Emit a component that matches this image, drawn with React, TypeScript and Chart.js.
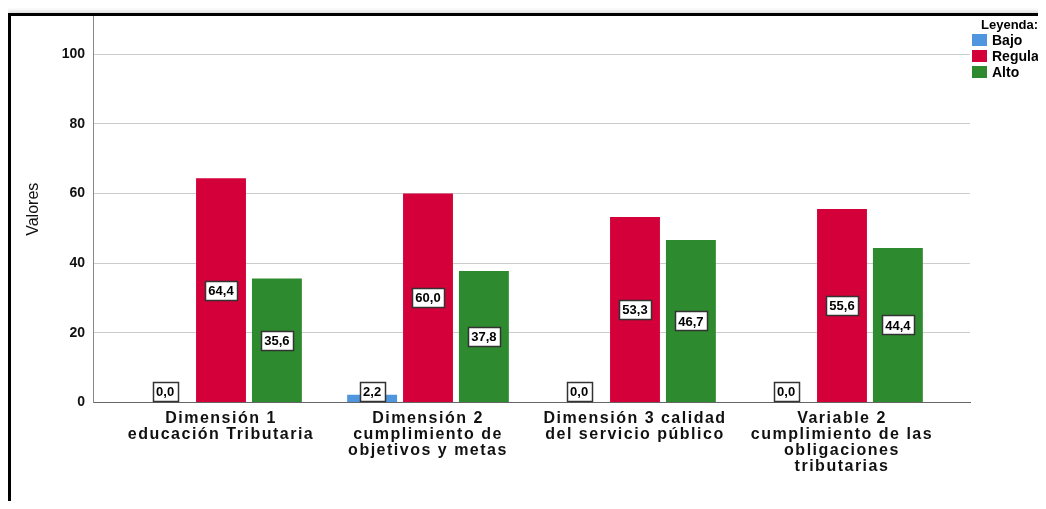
import React, { useEffect, useRef } from "react";
import { Chart, registerables } from "chart.js";

Chart.register(...registerables);

const categories: string[][] = [
  ["Dimensión 1", "educación Tributaria"],
  ["Dimensión 2", "cumplimiento de", "objetivos y metas"],
  ["Dimensión 3 calidad", "del servicio público"],
  ["Variable 2", "cumplimiento de las", "obligaciones", "tributarias"],
];
const seriesNames = ["Bajo", "Regula", "Alto"];
const bajo = [0.0, 2.2, 0.0, 0.0];
const regular = [64.4, 60.0, 53.3, 55.6];
const alto = [35.6, 37.8, 46.7, 44.4];
const yTicks = [0, 20, 40, 60, 80, 100];
const colors = ["#5096df", "#d4003a", "#2e8a2e"];

const FONT = '"Liberation Sans", Arial, sans-serif';

const labelPlugin = {
  id: "valueLabels",
  afterDatasetsDraw(chart: any) {
    const ctx = chart.ctx;
    ctx.save();
    ctx.font = `bold 13px ${FONT}`;
    ctx.textAlign = "center";
    ctx.textBaseline = "middle";
    chart.data.datasets.forEach((ds: any, di: number) => {
      const meta = chart.getDatasetMeta(di);
      meta.data.forEach((bar: any, i: number) => {
        const v = ds.data[i].y;
        const txt = v.toFixed(1).replace(".", ",");
        const w = Math.round(ctx.measureText(txt).width + 7);
        const h = 19;
        const base = bar.base;
        let cy = (bar.y + base) / 2;
        const maxCy = base - 1.5 - h / 2;
        if (cy > maxCy) cy = maxCy;
        const x0 = Math.round(bar.x - w / 2) + 0.5;
        const y0 = Math.round(cy - h / 2) + 0.5;
        ctx.fillStyle = "#ffffff";
        ctx.fillRect(x0, y0, w, h);
        ctx.strokeStyle = "#333333";
        ctx.lineWidth = 1.5;
        ctx.strokeRect(x0, y0, w, h);
        ctx.fillStyle = "#000000";
        ctx.fillText(txt, bar.x, cy + 1);
      });
    });
    ctx.restore();
  },
};

const legendPlugin = {
  id: "customLegend",
  afterDraw(chart: any) {
    const ctx = chart.ctx;
    ctx.save();
    ctx.textAlign = "left";
    ctx.textBaseline = "middle";
    ctx.fillStyle = "#000";
    ctx.font = `bold 13px ${FONT}`;
    ctx.fillText("Leyenda:", 970, 9);
    seriesNames.forEach((name, i) => {
      const cy = 24 + i * 16;
      ctx.fillStyle = colors[i];
      ctx.fillRect(961, cy - 6, 15, 12);
      ctx.fillStyle = "#000";
      ctx.font = `bold 14px ${FONT}`;
      ctx.fillText(name, 981, cy + 1);
    });
    ctx.restore();
  },
};

export default function App() {
  const ref = useRef<HTMLCanvasElement>(null);
  useEffect(() => {
    document.body.style.overflow = "hidden";
    document.documentElement.style.overflow = "hidden";
    if (!ref.current) return;
    const series = [bajo, regular, alto];
    const chart = new Chart(ref.current, {
      type: "bar",
      data: {
        datasets: series.map((arr, si) => ({
          label: seriesNames[si],
          data: arr.map((v, i) => ({ x: i, y: v })),
          backgroundColor: colors[si],
          borderWidth: 0,
          categoryPercentage: 0.81,
          barPercentage: 0.893,
        })),
      },
      options: {
        animation: false,
        responsive: false,
        layout: { padding: { right: 76, top: 0, left: 0, bottom: 0 } },
        plugins: {
          legend: { display: false },
          tooltip: { enabled: false },
        },
        scales: {
          x: {
            type: "linear",
            offset: false,
            min: -0.6184,
            max: 3.6184,
            afterBuildTicks: (s: any) => {
              s.ticks = categories.map((_, i) => ({ value: i }));
            },
            afterFit: (s: any) => {
              s.height = 98.5;
              s.paddingLeft = 0;
              s.paddingRight = 0;
              s.paddingTop = 0;
              s.paddingBottom = 0;
            },
            afterUpdate: (s: any) => {
              if (!s.__spaced) {
                const orig = s.drawLabels.bind(s);
                s.drawLabels = (ca: any) => {
                  const ctx = s.ctx;
                  ctx.save();
                  (ctx as any).letterSpacing = "1.5px";
                  orig(ca);
                  ctx.restore();
                };
                s.__spaced = true;
              }
            },
            grid: { display: false, drawTicks: false },
            border: { display: true, color: "#666666", width: 1 },
            ticks: {
              autoSkip: false,
              maxRotation: 0,
              minRotation: 0,
              padding: 8,
              color: "#111111",
              font: { family: FONT, size: 16, weight: "bold", lineHeight: "16px" },
              callback: (v: any) => categories[Math.round(Number(v))] ?? "",
            },
          },
          y: {
            min: 0,
            max: 111,
            afterBuildTicks: (s: any) => {
              s.ticks = yTicks.map((v) => ({ value: v }));
            },
            afterFit: (s: any) => {
              s.width = 82;
              s.paddingTop = 0;
              s.paddingBottom = 0;
              s.paddingLeft = 0;
              s.paddingRight = 0;
            },
            grid: { color: "#cccccc", lineWidth: 1, drawTicks: false },
            border: { display: true, color: "#888888", width: 1 },
            ticks: {
              padding: 8,
              color: "#111111",
              font: { family: FONT, size: 14, weight: "bold" },
              callback: (v: any) => String(v),
            },
            title: {
              display: true,
              text: "Valores",
              color: "#111111",
              font: { family: FONT, size: 16, weight: "normal" },
              padding: { top: 13, bottom: 0 },
            },
          },
        },
      },
      plugins: [labelPlugin, legendPlugin],
    } as any);
    return () => chart.destroy();
  }, []);
  return (
    <div style={{ paddingTop: 5 }}>
      <div
        style={{
          borderLeft: "3px solid #000",
          borderTop: "3px solid #000",
          width: 1035,
          height: 485,
          boxShadow: "-1px -2px 4px rgba(0,0,0,0.15)",
        }}
      >
        <canvas ref={ref} width={1035} height={485} style={{ display: "block" }} />
      </div>
    </div>
  );
}
